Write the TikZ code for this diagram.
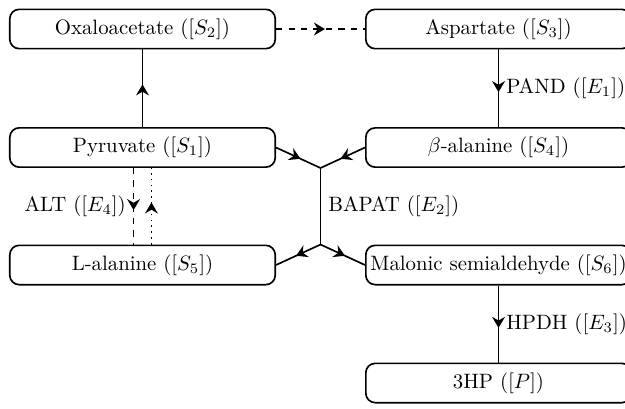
\documentclass[tikz,border=0pt]{standalone}
\usetikzlibrary{arrows.meta,decorations.markings,calc}
\begin{document}
\begin{tikzpicture}[x=0.4808pt,y=-0.4808pt,
  spec/.style={draw,thick,rounded corners=4.5pt,minimum width=127.6pt,minimum height=18.9pt,inner sep=3.33pt},
  midarrow/.style={postaction={decorate},decoration={markings,mark=at position 0.55 with {\arrow{Stealth[length=5.3pt,width=6.2pt,inset=1.8pt]}}}},
  conn/.style={thick,midarrow}]
\clip (0,0) rectangle (625,408);

% metabolites
\node[spec] (oxa)  at (142.5,29) {Oxaloacetate ($[S_2]$)};
\node[spec,anchor=west] (asp)  at (365,29) {Aspartate ($[S_3]$)};
\node[spec] (pyr)  at (142.5,147.5) {Pyruvate ($[S_1]$)};
\node[spec,anchor=west] (bala) at (365,147.5) {$\beta$-alanine ($[S_4]$)};
\node[spec] (lala) at (142.5,265) {L-alanine ($[S_5]$)};
\node[spec,anchor=west,inner xsep=1.8pt] (mal)  at (365,265) {Malonic semialdehyde ($[S_6]$)};
\node[spec,anchor=west] (hp)   at (365,383) {3HP ($[P]$)};

% BAPAT junctions
\coordinate (jtop) at ($(pyr.south east)!0.5!(bala.south west)$);
\coordinate (jbot) at ($(lala.north east)!0.5!(mal.north west)$);

% reactions
\draw[conn] (pyr) -- (oxa);
\draw[conn,dashed] (oxa) -- (asp);
\draw[conn] (asp.south -| hp) -- node[right]{PAND ($[E_1]$)} (bala.north -| hp);
\draw[conn] (pyr.east) -- (jtop);
\draw[conn] (bala.west) -- (jtop);
\draw[thick] (jtop) -- node[right]{BAPAT ($[E_2]$)} (jbot);
\draw[conn] (jbot) -- (lala.east);
\draw[conn] (jbot) -- (mal.west);
\draw[conn,dashed] ([xshift=-4.3pt]pyr.south) -- node[left]{ALT ($[E_4]$)} ([xshift=-4.3pt]lala.north);
\draw[conn,dotted] ([xshift=4.3pt]lala.north) -- ([xshift=4.3pt]pyr.south);
\draw[conn] (mal.south -| hp) -- node[right]{HPDH ($[E_3]$)} (hp);

\end{tikzpicture}
\end{document}
